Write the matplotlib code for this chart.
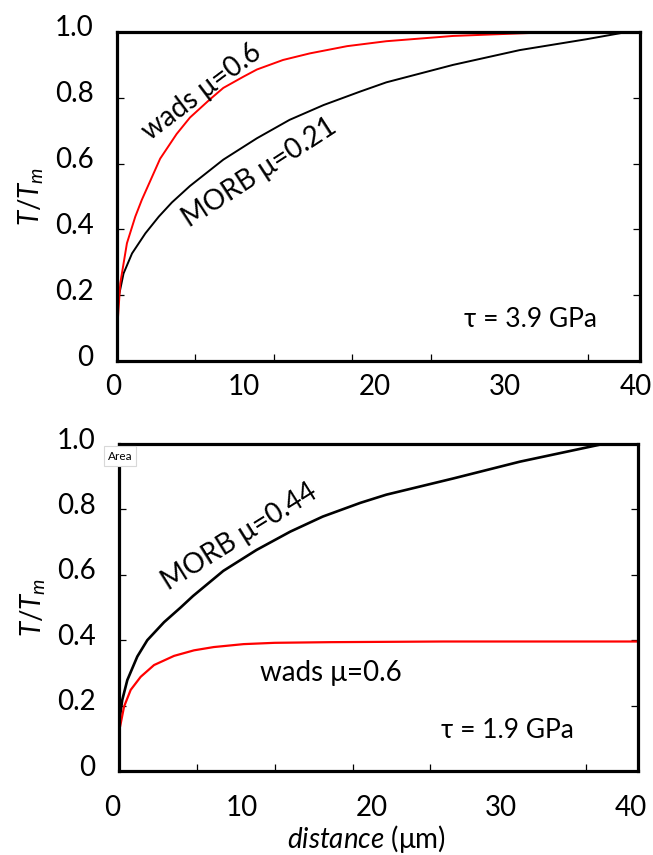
import matplotlib
matplotlib.use("Agg")
import matplotlib.pyplot as plt
from matplotlib.transforms import ScaledTranslation
from matplotlib.ticker import FixedLocator

plt.rcParams['font.family'] = ['Lato', 'DejaVu Sans']
plt.rcParams['mathtext.fontset'] = 'custom'
plt.rcParams['mathtext.it'] = 'Lato:italic'
plt.rcParams['mathtext.rm'] = 'Lato'

# ---- data: top panel (tau = 3.9 GPa) ----
top_wads_x = [0.08, 0.25, 0.76, 1.4, 1.9, 3.3, 4.56, 5.58, 7.1, 8.13, 9.66, 10.7, 12.7, 14.75, 17.6, 20.6, 25.7, 32.9]
top_wads_y = [0.135, 0.236, 0.358, 0.439, 0.49, 0.615, 0.69, 0.74, 0.795, 0.83, 0.864, 0.886, 0.915, 0.935, 0.957, 0.972, 0.988, 0.999]
top_morb_x = [0.05, 0.13, 0.5, 1.15, 2.17, 3.2, 4.2, 5.58, 8.13, 10.7, 13.2, 15.8, 18.6, 20.6, 25.7, 30.8, 35.9, 39.0]
top_morb_y = [0.165, 0.195, 0.266, 0.327, 0.388, 0.439, 0.482, 0.532, 0.612, 0.677, 0.733, 0.778, 0.819, 0.847, 0.90, 0.945, 0.978, 1.0]

# ---- data: bottom panel (tau = 1.9 GPa) ----
bot_morb_x = [0.05, 0.25, 0.64, 1.41, 2.18, 3.47, 4.75, 5.7, 8.04, 10.6, 13.2, 15.7, 18.6, 20.6, 25.8, 30.9, 37.3]
bot_morb_y = [0.16, 0.217, 0.278, 0.35, 0.40, 0.455, 0.5, 0.535, 0.612, 0.676, 0.732, 0.778, 0.82, 0.845, 0.895, 0.946, 1.0]
bot_wads_x = [0.08, 0.39, 0.9, 1.67, 2.7, 4.24, 5.78, 7.3, 9.6, 12.0, 16.3, 25.0, 40.0]
bot_wads_y = [0.135, 0.197, 0.248, 0.288, 0.324, 0.352, 0.369, 0.379, 0.388, 0.392, 0.394, 0.396, 0.396]

x_tick_vals = [0, 10, 20, 30, 40]
x_tick_labels = ['0', '10', '20', '30', '40']
x_minor_ticks = [6, 12, 18, 24, 30, 36]
y_tick_vals = [0, 0.2, 0.4, 0.6, 0.8, 1.0]
y_tick_labels = ['0', '0.2', '0.4', '0.6', '0.8', '1.0']

RED = '#ff0000'
W, H = 653, 855
fig = plt.figure(figsize=(W / 100, H / 100), dpi=100)


def px_axes(l, t, r, b):
    return fig.add_axes([l / W, 1 - b / H, (r - l) / W, (b - t) / H])


def style(ax, xpad, xshift):
    ax.set_xlim(0, 40)
    ax.set_ylim(0, 1.0)
    for s in ax.spines.values():
        s.set_linewidth(2.3)
        s.set_color('black')
    ax.xaxis.set_major_locator(FixedLocator(x_tick_vals))
    ax.set_xticklabels(x_tick_labels)
    ax.xaxis.set_minor_locator(FixedLocator(x_minor_ticks))
    ax.set_yticks(y_tick_vals)
    ax.set_yticklabels(y_tick_labels)
    ax.tick_params(axis='x', which='major', length=0, pad=xpad, labelsize=20)
    ax.tick_params(axis='x', which='minor', direction='in', length=5, width=0.9)
    ax.tick_params(axis='y', which='major', direction='in', length=5, width=0.9,
                   right=True, pad=17, labelsize=20)
    off_y = ScaledTranslation(0, 6 / 100, fig.dpi_scale_trans)
    for lab in ax.get_yticklabels():
        lab.set_transform(lab.get_transform() + off_y)
    off_x = ScaledTranslation(xshift / 100, 0, fig.dpi_scale_trans)
    for lab in ax.get_xticklabels():
        lab.set_transform(lab.get_transform() + off_x)
    ax.set_ylabel(r'$T/T_m$', fontsize=20, labelpad=6)


# top panel
ax1 = px_axes(117, 32, 640, 361)
ax1.plot(top_morb_x, top_morb_y, color='black', lw=1.4, solid_capstyle='round', solid_joinstyle='round')
ax1.plot(top_wads_x, top_wads_y, color=RED, lw=1.4, solid_capstyle='round', solid_joinstyle='round')
style(ax1, 9, -4)
ax1.text(6.5, 0.818, 'wads μ=0.6', rotation=37, ha='center', va='center',
         rotation_mode='anchor', fontsize=20)
ax1.text(10.9, 0.572, 'MORB μ=0.21', rotation=33, ha='center', va='center',
         rotation_mode='anchor', fontsize=20)
ax1.text(31.6, 0.125, 'τ = 3.9 GPa', ha='center', va='center', fontsize=19)

# bottom panel
ax2 = px_axes(119, 444, 638, 771)
ax2.plot(bot_morb_x, bot_morb_y, color='black', lw=1.9, solid_capstyle='round', solid_joinstyle='round')
ax2.plot(bot_wads_x, bot_wads_y, color=RED, lw=1.6, solid_capstyle='round', solid_joinstyle='round')
style(ax2, 17, -7)
ax2.text(9.3, 0.716, 'MORB μ=0.44', rotation=32, ha='center', va='center',
         rotation_mode='anchor', fontsize=20)
ax2.text(16.3, 0.30, 'wads μ=0.6', ha='center', va='center', fontsize=20)
ax2.text(29.9, 0.125, 'τ = 1.9 GPa', ha='center', va='center', fontsize=19)

fig.text(366 / W, 1 - 839 / H, r'$\mathit{distance}$ (μm)', ha='center', va='center', fontsize=20)
fig.text(120 / W, 1 - 456 / H, 'Area', ha='center', va='center', fontsize=8.5,
         bbox=dict(boxstyle='square,pad=0.35', fc='white', ec='#d8d8d8', lw=0.8))

fig.savefig('out.png', dpi=100)
